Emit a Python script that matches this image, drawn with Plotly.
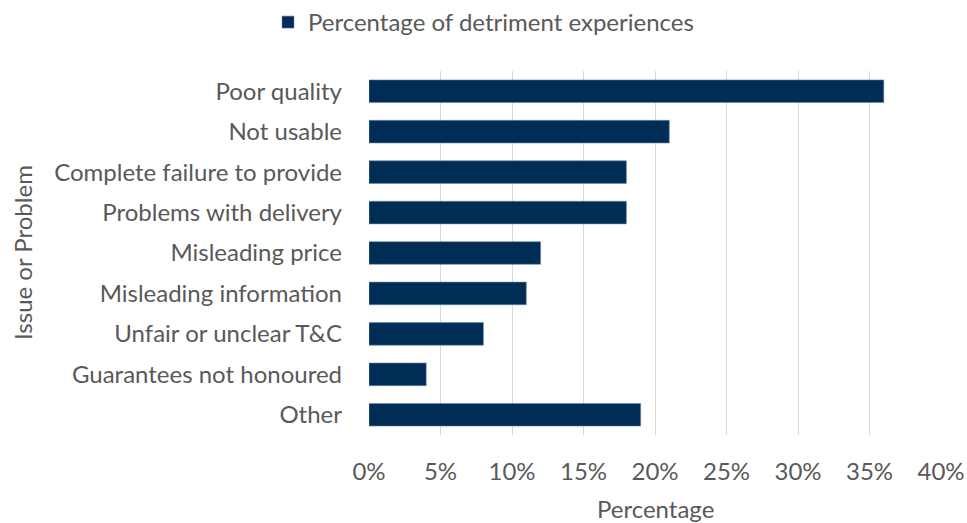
import plotly.graph_objects as go

categories = ["Poor quality", "Not usable", "Complete failure to provide", "Problems with delivery",
              "Misleading price", "Misleading information", "Unfair or unclear T&C",
              "Guarantees not honoured", "Other"]
values = [0.36, 0.21, 0.18, 0.18, 0.12, 0.11, 0.08, 0.04, 0.19]
series_name = "Percentage of detriment experiences"
x_ticks = [0, 0.05, 0.10, 0.15, 0.20, 0.25, 0.30, 0.35, 0.40]
x_tick_labels = ["0%", "5%", "10%", "15%", "20%", "25%", "30%", "35%", "40%"]

FONT = "Lato, 'Open Sans', sans-serif"
GREY = "#595959"
FS = 24

L, R, T, B = 369, 26, 71, 88
PW = 967 - L - R
PH = 523 - T - B

fig = go.Figure(go.Bar(
    x=values, y=categories, orientation="h", name=series_name,
    marker=dict(color="#002D56", line=dict(color="#6f8aa6", width=0.6)),
    showlegend=True,
))

fig.update_layout(
    width=967, height=523,
    margin=dict(l=L, r=R, t=T, b=B, autoexpand=False),
    paper_bgcolor="white", plot_bgcolor="white",
    font=dict(family=FONT, color=GREY, size=FS),
    bargap=0.44,
    legend=dict(orientation="h", xref="container", yref="container", x=0.5, xanchor="center",
                y=1.0, yanchor="top", font=dict(size=FS, color=GREY),
                itemwidth=30, tracegroupgap=0),
    xaxis=dict(range=[0, 0.40], tickvals=x_ticks, ticktext=x_tick_labels,
               showgrid=True, gridcolor="#d9d9d9", gridwidth=1, zeroline=False,
               showline=False, ticks="", ticklabelstandoff=20, automargin=False,
               tickfont=dict(size=FS, color=GREY)),
    yaxis=dict(categoryorder="array", categoryarray=categories[::-1],
               showgrid=False, zeroline=False, showline=False, ticks="", automargin=False,
               ticklabelstandoff=26, tickfont=dict(size=FS, color=GREY)),
    annotations=[
        dict(text="Percentage", xref="paper", yref="paper", x=(655 - L) / PW,
             y=-(508 - (T + PH)) / PH, xanchor="center", yanchor="middle", showarrow=False,
             font=dict(size=FS, color=GREY)),
        dict(text="Issue or Problem", xref="paper", yref="paper", x=(22 - L) / PW,
             y=0.5, xanchor="center", yanchor="middle", textangle=-90, showarrow=False,
             font=dict(size=FS, color=GREY)),
    ],
)

fig.write_html("out.html", config={"displayModeBar": False},
               post_script="document.body.style.margin='0';document.body.style.overflow='hidden';")
